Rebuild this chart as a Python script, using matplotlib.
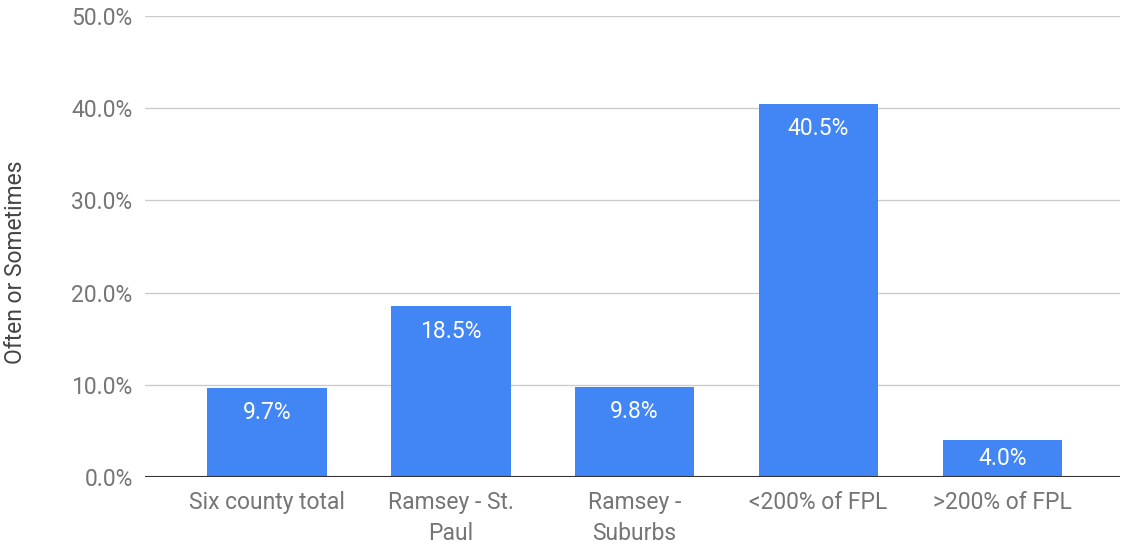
import numpy as np
import matplotlib.pyplot as plt

plt.rcParams['font.family'] = ['Roboto', 'DejaVu Sans']

# data
categorias = ['Six county total', 'Ramsey - St.\nPaul', 'Ramsey -\nSuburbs',
              '<200% of FPL', '>200% of FPL']
valores = [9.7, 18.5, 9.8, 40.5, 4.0]
yticks = [0, 10, 20, 30, 40, 50]

azul = '#4285f4'
gris = '#757575'

fig = plt.figure(figsize=(11.25, 5.46), dpi=100)
ax = fig.add_axes([0.129, 0.1264, 0.8667, 0.8443])

x = np.arange(len(categorias))
ax.bar(x, valores, width=0.65, color=azul, zorder=3)

# etiquetas dentro de cada barra
for xi, v in zip(x, valores):
    y = v - min(2.7, v/2)
    ax.text(xi, y, '%.1f%%' % v, ha='center', va='center',
            color='white', fontsize=16.5, zorder=4)

ax.set_xlim(-0.663, 4.641)
ax.set_ylim(0, 50)
ax.set_yticks(yticks)
ax.set_yticklabels(['%.1f%%' % t for t in yticks])
ax.set_xticks(x)
ax.set_xticklabels(categorias, linespacing=1.45)

ax.grid(axis='y', color='#cccccc', linewidth=1, zorder=0)
ax.axhline(0, color='#333333', linewidth=1.5, zorder=5)
for s in ax.spines.values():
    s.set_visible(False)
ax.tick_params(axis='both', length=0, labelsize=16.5, labelcolor=gris)
ax.tick_params(axis='y', pad=9)
ax.tick_params(axis='x', pad=10)

ax.set_ylabel('Often or Sometimes', fontsize=16.5, color='#444444')
ax.yaxis.set_label_coords(-0.121, 0.466)

plt.savefig('out.png', dpi=100)
